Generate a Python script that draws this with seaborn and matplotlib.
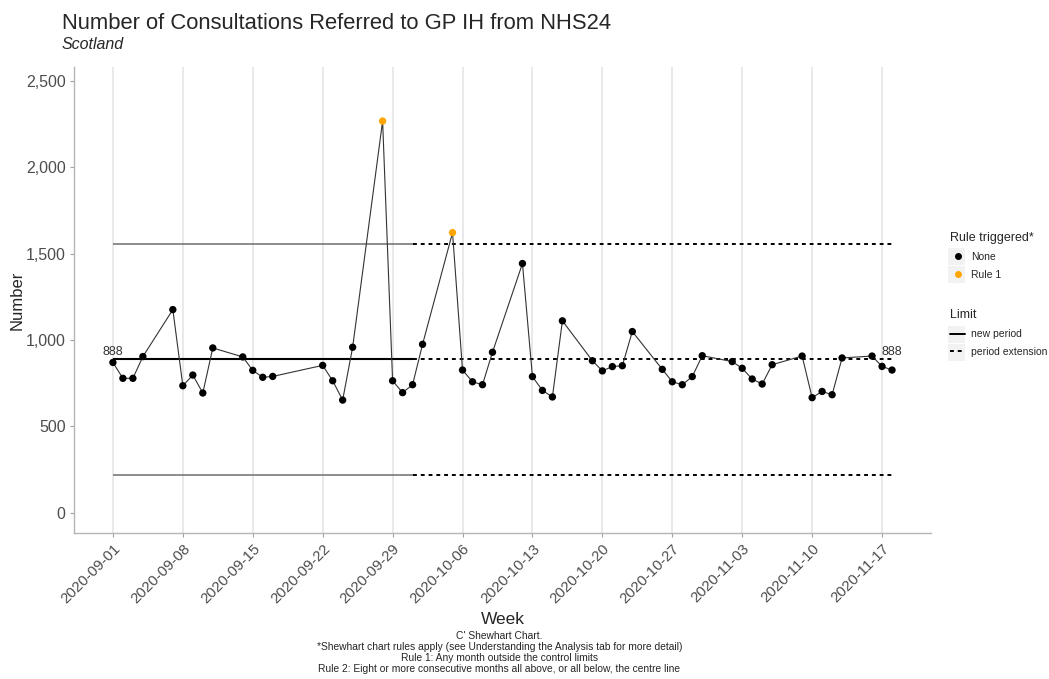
import pandas as pd
import matplotlib.pyplot as plt
import matplotlib.dates as mdates
import matplotlib.ticker as mticker
from matplotlib.lines import Line2D
from matplotlib.patches import Rectangle
import seaborn as sns

# Days since 2020-09-01 with a recorded value
day_offsets = [0, 1, 2, 3, 6, 7, 8, 9, 10, 13, 14, 15, 16, 21, 22, 23, 24, 27, 28, 29,
               30, 31, 34, 35, 36, 37, 38, 41, 42, 43, 44, 45, 48, 49, 50, 51, 52, 55,
               56, 57, 58, 59, 62, 63, 64, 65, 66, 69, 70, 71, 72, 73, 76, 77, 78]
consultations = [870, 778, 778, 904, 1176, 735, 797, 693, 954, 902, 824, 784, 789, 853,
                 764, 652, 958, 2268, 764, 695, 741, 975, 1622, 826, 758, 741, 929, 1443,
                 788, 708, 670, 1111, 880, 821, 846, 851, 1049, 830, 758, 741, 788, 909,
                 875, 836, 774, 745, 857, 907, 666, 702, 683, 896, 907, 847, 826]
rule_1_days = [27, 34]

centre = 888
upper_limit = 1557
lower_limit = 219
period_end_day = 30

start = pd.Timestamp("2020-09-01")
df = pd.DataFrame({
    "Week": start + pd.to_timedelta(day_offsets, unit="D"),
    "Number": consultations,
})
df["Rule"] = ["Rule 1" if d in rule_1_days else "None" for d in day_offsets]

first_day = df["Week"].iloc[0]
last_day = df["Week"].iloc[-1]
split_day = start + pd.Timedelta(days=period_end_day)

sns.set_style("white")
plt.rcParams["font.family"] = ["Liberation Sans", "DejaVu Sans"]

fig = plt.figure(figsize=(10.49, 6.79), dpi=100)
ax = fig.add_axes([0.0705, 0.215, 0.817, 0.686])

# vertical grid only
ax.grid(axis="x", color="#e3e3e3", linewidth=1.1)
ax.grid(axis="y", visible=False)
ax.set_axisbelow(True)

# control limits: solid for the period, dashed for the extension
for val, col, lw in [(upper_limit, "#6e6e6e", 1.1), (lower_limit, "#6e6e6e", 1.1), (centre, "black", 1.5)]:
    ax.plot([first_day, split_day], [val, val], color=col, linewidth=lw, solid_capstyle="butt")
    ax.plot([split_day, last_day], [val, val], color="black", linewidth=1.4,
            linestyle=(0, (2, 2)))

sns.lineplot(data=df, x="Week", y="Number", color="#333333", linewidth=0.8, ax=ax,
             legend=False)
sns.scatterplot(data=df, x="Week", y="Number", hue="Rule",
                palette={"None": "black", "Rule 1": "#FFA500"},
                s=28, edgecolor="none", legend=False, ax=ax, zorder=3)

ax.text(first_day, centre + 5, "888", ha="center", va="bottom", fontsize=9, color="#333333")
ax.text(last_day, centre + 5, "888", ha="center", va="bottom", fontsize=9, color="#333333")

ax.set_xlim(start - pd.Timedelta(days=3.9), last_day + pd.Timedelta(days=3.9))
ax.set_ylim(-118, 2580)
ax.set_xticks(pd.date_range("2020-09-01", "2020-11-17", freq="7D"))
ax.xaxis.set_major_formatter(mdates.DateFormatter("%Y-%m-%d"))
ax.yaxis.set_major_locator(mticker.MultipleLocator(500))
ax.yaxis.set_major_formatter(mticker.FuncFormatter(lambda v, p: f"{int(v):,}"))

for lab in ax.get_xticklabels():
    lab.set_rotation(45)
    lab.set_ha("right")
    lab.set_rotation_mode("anchor")
ax.tick_params(axis="both", labelcolor="#4d4d4d", color="#a0a0a0",
               length=3, width=0.8, bottom=True, left=True, pad=3)
ax.tick_params(axis="y", labelsize=11.5)
ax.tick_params(axis="x", labelsize=10.8)

for side in ["top", "right"]:
    ax.spines[side].set_visible(False)
for side in ["left", "bottom"]:
    ax.spines[side].set_color("#b5b5b5")
    ax.spines[side].set_linewidth(1.0)

ax.set_xlabel("Week", fontsize=12.5, labelpad=4)
ax.set_ylabel("Number", fontsize=12, labelpad=1)

fig.text(0.059, 0.957, "Number of Consultations Referred to GP IH from NHS24", fontsize=15.8)
fig.text(0.059, 0.928, "Scotland", fontsize=11.5, style="italic")

caption = ("C' Shewhart Chart.\n"
           "*Shewhart chart rules apply (see Understanding the Analysis tab for more detail)\n"
           "Rule 1: Any month outside the control limits\n"
           "Rule 2: Eight or more consecutive months all above, or all below, the centre line")
fig.text(0.476, 0.039, caption, ha="center", va="center", fontsize=7.4,
         family=["Liberation Sans Narrow", "Liberation Sans", "DejaVu Sans"],
         linespacing=1.12)

# legends
rule_handles = [
    Line2D([], [], marker="o", linestyle="none", color="black", markersize=4),
    Line2D([], [], marker="o", linestyle="none", color="#FFA500", markersize=4),
]
leg1 = fig.legend(rule_handles, ["None", "Rule 1"], title="Rule triggered*",
                  loc="upper left", bbox_to_anchor=(0.897, 0.672), frameon=False,
                  fontsize=7.5, title_fontsize=9, handlelength=1.4, handletextpad=0.6,
                  labelspacing=0.75, alignment="left")
limit_handles = [
    Line2D([], [], color="black", linewidth=1.4),
    Line2D([], [], color="black", linewidth=1.4, linestyle=(0, (2, 2))),
]
leg2 = fig.legend(limit_handles, ["new period", "period extension"], title="Limit",
                  loc="upper left", bbox_to_anchor=(0.897, 0.558), frameon=False,
                  fontsize=7.5, title_fontsize=9, handlelength=1.4, handletextpad=0.6,
                  labelspacing=0.75, alignment="left")

# grey key backgrounds behind each legend key
fig.canvas.draw()
inv = fig.transFigure.inverted()
for leg in (leg1, leg2):
    for txt in leg.get_texts():
        bb = txt.get_window_extent()
        yc = (bb.y0 + bb.y1) / 2
        x0, y0 = inv.transform((bb.x0 - 23, yc - 8.5))
        w, h = 17 / fig.bbox.width, 17 / fig.bbox.height
        fig.patches.append(Rectangle((x0, y0), w, h, transform=fig.transFigure,
                                     facecolor="#f2f2f2", edgecolor="none", zorder=0))

fig.savefig("out.png", dpi=100)
